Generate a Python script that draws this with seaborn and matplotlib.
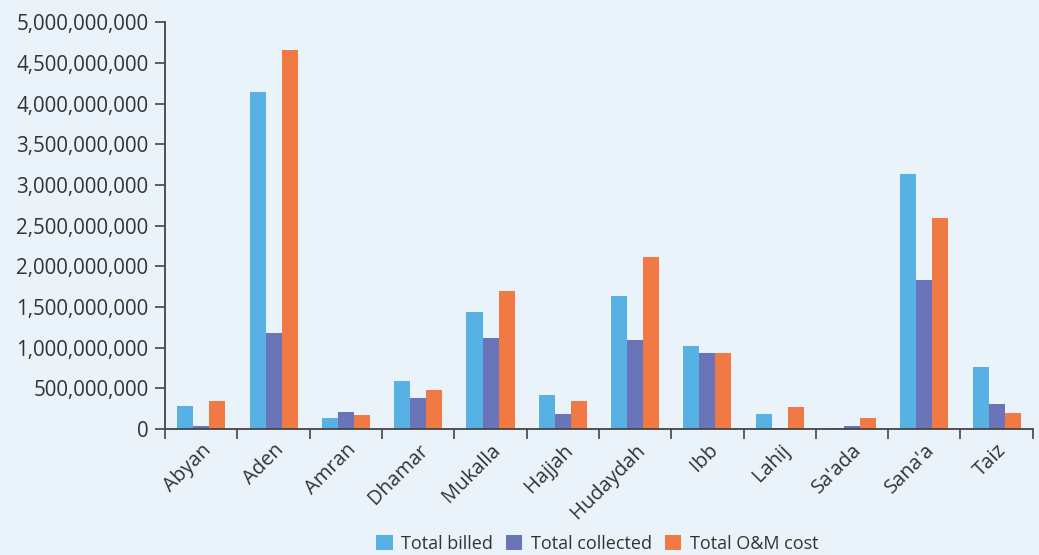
import matplotlib
matplotlib.use("Agg")
import matplotlib.pyplot as plt
from matplotlib.ticker import FuncFormatter, MultipleLocator
import seaborn as sns
import pandas as pd

regions = ["Abyan", "Aden", "Amran", "Dhamar", "Mukalla", "Hajjah", "Hudaydah",
           "Ibb", "Lahij", "Sa'ada", "Sana'a", "Taiz"]
total_billed = [286e6, 4144e6, 139e6, 593e6, 1441e6, 421e6, 1638e6,
                1023e6, 188e6, 12e6, 3137e6, 765e6]
total_collected = [41e6, 1180e6, 213e6, 385e6, 1122e6, 188e6, 1097e6,
                   937e6, 14e6, 41e6, 1834e6, 311e6]
total_om_cost = [348e6, 4660e6, 176e6, 483e6, 1699e6, 348e6, 2117e6,
                 937e6, 274e6, 139e6, 2596e6, 200e6]
series_names = ["Total billed", "Total collected", "Total O&M cost"]
colors = ["#58B1E4", "#6A74B8", "#F17A44"]

df = pd.DataFrame({
    "Region": regions * 3,
    "Series": [series_names[0]] * 12 + [series_names[1]] * 12 + [series_names[2]] * 12,
    "Value": total_billed + total_collected + total_om_cost,
})

bg = "#EAF3FA"
txt = "#333333"
sns.set_theme(style="ticks")
plt.rcParams["font.family"] = ["Open Sans", "DejaVu Sans"]

fig = plt.figure(figsize=(10.39, 5.55), dpi=100, facecolor=bg)
ax = fig.add_axes([0.159, 0.227, 0.835, 0.733])
ax.set_facecolor(bg)

sns.barplot(data=df, x="Region", y="Value", hue="Series", hue_order=series_names,
            palette=colors, width=0.665, saturation=1, ax=ax, errorbar=None,
            linewidth=0, edgecolor="none")

ax.set_ylim(0, 5e9)
ax.set_xlim(-0.5, len(regions) - 0.5)
ax.yaxis.set_major_locator(MultipleLocator(5e8))
ax.yaxis.set_major_formatter(FuncFormatter(lambda v, p: f"{int(round(v)):,}"))
ax.set_xlabel("")
ax.set_ylabel("")

for s in ["top", "right"]:
    ax.spines[s].set_visible(False)
for s in ["left", "bottom"]:
    ax.spines[s].set_color("#444444")
    ax.spines[s].set_linewidth(1.3)

ax.tick_params(axis="y", labelsize=14.8, labelcolor=txt, color="#444444", length=7, width=1.2, pad=5)
ax.set_xticks([i for i in range(len(regions))])
ax.set_xticklabels(regions, rotation=45, ha="right", rotation_mode="anchor", fontsize=14.5, color=txt)
ax.tick_params(axis="x", length=0, pad=8)
ax.set_xticks([i - 0.5 for i in range(len(regions) + 1)], minor=True)
ax.tick_params(axis="x", which="minor", length=7, width=1.2, color="#444444")

leg = ax.legend(loc="upper center", bbox_to_anchor=(0.498, -0.22), ncol=3, frameon=False,
                fontsize=13.0, handlelength=0.9, handleheight=0.9, handletextpad=0.45,
                columnspacing=0.75)
for t in leg.get_texts():
    t.set_color(txt)

fig.savefig("out.png", dpi=100, facecolor=bg)
